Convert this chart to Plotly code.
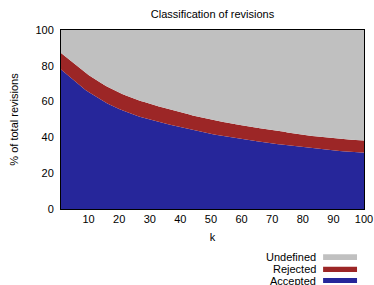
import plotly.graph_objects as go

k = list(range(1, 101))

accepted = [
    78.0, 76.5, 75.0, 73.5, 72.0, 70.6, 69.2, 67.8, 66.5, 65.3,
    64.2, 63.1, 62.0, 61.0, 60.0, 59.1, 58.2, 57.3, 56.5, 55.8,
    55.1, 54.4, 53.7, 53.1, 52.5, 51.9, 51.4, 50.9, 50.4, 49.9,
    49.4, 48.9, 48.5, 48.1, 47.7, 47.3, 46.9, 46.5, 46.0, 45.6,
    45.2, 44.8, 44.4, 44.0, 43.6, 43.3, 42.9, 42.5, 42.2, 41.9,
    41.6, 41.3, 41.0, 40.7, 40.4, 40.1, 39.8, 39.6, 39.3, 39.1,
    38.9, 38.6, 38.4, 38.1, 37.9, 37.6, 37.4, 37.2, 36.9, 36.7,
    36.5, 36.2, 36.0, 35.8, 35.6, 35.3, 35.1, 34.9, 34.7, 34.5,
    34.3, 34.0, 33.8, 33.6, 33.4, 33.3, 33.1, 32.9, 32.8, 32.7,
    32.5, 32.4, 32.3, 32.1, 32.0, 31.9, 31.8, 31.7, 31.6, 31.5,
]

rejected = [
    9.2, 9.3, 9.4, 9.4, 9.5, 9.5, 9.6, 9.6, 9.6, 9.6,
    9.6, 9.5, 9.5, 9.5, 9.4, 9.4, 9.4, 9.3, 9.3, 9.3,
    9.2, 9.2, 9.2, 9.1, 9.1, 9.0, 9.0, 9.0, 8.9, 8.9,
    8.9, 8.8, 8.8, 8.7, 8.7, 8.7, 8.6, 8.6, 8.5, 8.5,
    8.4, 8.4, 8.4, 8.3, 8.3, 8.2, 8.2, 8.1, 8.1, 8.0,
    8.0, 8.0, 7.9, 7.9, 7.9, 7.8, 7.8, 7.8, 7.7, 7.7,
    7.7, 7.6, 7.6, 7.6, 7.5, 7.5, 7.5, 7.4, 7.4, 7.4,
    7.3, 7.3, 7.3, 7.3, 7.2, 7.2, 7.2, 7.2, 7.1, 7.1,
    7.1, 7.1, 7.0, 7.0, 7.0, 7.0, 7.0, 6.9, 6.9, 6.9,
    6.9, 6.9, 6.9, 6.8, 6.8, 6.8, 6.8, 6.8, 6.8, 6.8,
]

undefined = [round(100 - a - r, 2) for a, r in zip(accepted, rejected)]

y_ticks = [0, 20, 40, 60, 80, 100]
x_ticks = [10, 20, 30, 40, 50, 60, 70, 80, 90, 100]

BLUE = "#26269a"
RED = "#9c2626"
GRAY = "#c0c0c0"
FONT = "Liberation Sans, Arial, Helvetica, sans-serif"

fig = go.Figure()
for name, vals, col in [("Accepted", accepted, BLUE),
                        ("Rejected", rejected, RED),
                        ("Undefined", undefined, GRAY)]:
    fig.add_trace(go.Scatter(
        x=k, y=vals, name=name, stackgroup="one", mode="lines",
        line=dict(width=0, color=col), fillcolor=col, showlegend=False,
        hoverinfo="skip",
    ))

# manual legend (text left, swatch right, like the original)
legend_items = [("Undefined", GRAY, -0.270, -0.253, -0.285),
                ("Rejected", RED, -0.337, -0.322, -0.352),
                ("Accepted", BLUE, -0.401, -0.385, -0.413)]
annotations = []
shapes = []
for name, col, yc, y0, y1 in legend_items:
    annotations.append(dict(text=name, x=0.848, y=yc, xref="paper", yref="paper",
                            xanchor="right", yanchor="middle", showarrow=False,
                            font=dict(size=11, color="black", family=FONT)))
    shapes.append(dict(type="rect", xref="paper", yref="paper",
                       x0=0.865, x1=0.977, y0=y0, y1=y1,
                       fillcolor=col, line=dict(width=0)))

fig.update_layout(
    width=374, height=285,
    margin=dict(l=61, r=10, t=30, b=76),
    paper_bgcolor="white", plot_bgcolor="white",
    hovermode=False,
    font=dict(family=FONT, size=11, color="black"),
    title=dict(text="Classification of revisions", x=0.5, xref="paper",
               y=0.952, yanchor="middle", font=dict(size=11, color="black")),
    xaxis=dict(range=[1, 100], tickvals=x_ticks, showgrid=False, zeroline=False,
               showline=True, linecolor="black", linewidth=1, mirror=True,
               ticks="", tickfont=dict(color="black"), automargin=False,
               title=dict(text="k", standoff=9, font=dict(color="black", size=11))),
    yaxis=dict(range=[0, 100], tickvals=y_ticks, showgrid=False, zeroline=False,
               showline=True, linecolor="black", linewidth=1, mirror=True,
               ticks="outside", ticklen=4, tickcolor="rgba(0,0,0,0)",
               tickfont=dict(color="black"),
               title=dict(text="% of total revisions", standoff=14,
                          font=dict(color="black", size=11))),
    annotations=annotations, shapes=shapes,
)

fig.write_html("out.html", config={"displayModeBar": False, "staticPlot": True},
               post_script="document.body.style.margin='0';document.body.style.overflow='hidden';")
